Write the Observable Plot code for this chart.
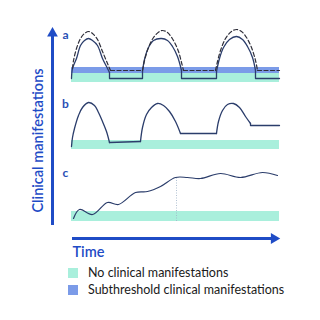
<!DOCTYPE html>
<html>
<head>
<meta charset="utf-8">
<script src="https://cdn.jsdelivr.net/npm/d3@7"></script>
<script src="https://cdn.jsdelivr.net/npm/@observablehq/plot@0.6"></script>
<style>
  html, body { margin: 0; padding: 0; background: #fff; }
  #wrap { position: relative; width: 320px; height: 320px; overflow: hidden; }
  #legend { position: absolute; left: 68px; top: 264px; font-family: Lato, "Open Sans", sans-serif; font-size: 12.5px; color: #1a1a1a; }
  .row { display: flex; align-items: center; height: 17px; }
  .sw { width: 10px; height: 10px; margin-right: 10px; }
</style>
</head>
<body>
<div id="wrap">
  <div id="chart"></div>
  <div id="legend"></div>
</div>
<script>
// ---- data (time units, severity above each panel's baseline) ----
const panels = ["a", "b", "c"];
const legendLabels = ["No clinical manifestations", "Subthreshold clinical manifestations"];
const bandColors = ["#a9efdc", "#7b9be8"];
const yAxisLabel = "Clinical manifestations";
const xAxisLabel = "Time";

// thresholds: no clinical manifestations below 9, subthreshold 9..15
const noClinicalTop = 9;
const subthresholdTop = 15;

// panel a — solid (actual) trajectory
const aSolidT = [0, 1, 5, 9, 13, 17, 21, 26, 31, 36, 38, 38, 71, 71, 73, 77, 82, 90, 96, 101, 106, 110, 110, 145, 145, 148, 152, 158, 165, 171, 176, 181, 184, 184, 208];
const aSolidV = [4, 14, 24, 37, 42, 44, 42, 37, 24, 14, 10, 4, 4, 11, 23, 35, 42, 44, 42, 36, 26, 12, 4, 4, 11, 24, 35, 43, 46, 43, 36, 25, 12, 4, 4];
// panel a — dashed trajectory
const aDashT = [1, 2, 5, 9, 13, 17, 21, 26, 31, 36, 39, 71, 73, 77, 82, 88, 91, 96, 102, 107, 110, 112, 144, 146, 149, 154, 160, 165, 170, 175, 180, 184, 186, 208];
const aDashV = [14, 22, 34, 44, 49, 51, 49, 43, 31, 19, 12, 12, 22, 35, 45, 51, 52, 50, 42, 31, 20, 12, 12, 21, 32, 44, 51, 53, 51, 45, 35, 22, 12, 12];
// panel b
const bT = [0, 1, 3, 7, 11, 17, 23, 27, 31, 35, 38, 69, 71, 75, 80, 86, 92, 98, 104, 109, 145, 147, 151, 156, 162, 168, 174, 179, 179, 208];
const bV = [3, 12, 21, 34, 42, 47, 44, 37, 28, 18, 7, 8, 22, 35, 42, 46, 44, 38, 28, 16, 16, 28, 39, 45, 46, 42, 33, 26, 24, 24];
// panel c
const cT = [2, 8, 21, 36, 47, 64, 76, 89, 104, 116, 129, 149, 169, 191, 206];
const cV = [3, 12, 7, 19, 17, 29, 30, 35, 44, 44, 43, 48, 44, 49, 46];
const cMarkT = 105; // dotted marker
const cMarkV = 44;
const cBandTop = 10;

// ---- layout (not data) ----
const W = 320, H = 262;
const base = {a: H - 82, b: H - 149, c: H - 221};
const tEnd = 208;

// split a trajectory into smooth (arc) runs and straight (flat / vertical) runs
function segments(T, V, p, name) {
  const out = [];
  let run = null, k = 0;
  for (let i = 0; i < T.length - 1; i++) {
    const dt = T[i + 1] - T[i], dv = V[i + 1] - V[i];
    const straight = dt === 0 || Math.abs(dv / dt) < 0.1;
    if (!run || run.straight !== straight) {
      run = {straight, id: `${name}-${k++}`};
      out.push({t: T[i], y: base[p] + V[i], id: run.id, straight});
    }
    out.push({t: T[i + 1], y: base[p] + V[i + 1], id: run.id, straight});
  }
  return out;
}
const smooth = (T, V, p, name) => T.map((t, i) => ({t, y: base[p] + V[i], id: name, straight: false}));

const navy = "#2b3d6b";
const trajectories = [
  {rows: segments(aSolidT, aSolidV, "a", "as"), dash: null, stroke: navy, w: 1.3},
  {rows: segments(aDashT, aDashV, "a", "ad"), dash: "4,2.5", stroke: "#2f2f3a", w: 1.2},
  {rows: segments(bT, bV, "b", "b"), dash: null, stroke: navy, w: 1.3},
  {rows: smooth(cT, cV, "c", "c"), dash: null, stroke: navy, w: 1.2}
];
const lineMarks = trajectories.flatMap(tr => [
  Plot.line(tr.rows.filter(d => !d.straight), {x: "t", y: "y", z: "id", stroke: tr.stroke, strokeWidth: tr.w, strokeDasharray: tr.dash, curve: "catmull-rom"}),
  Plot.line(tr.rows.filter(d => d.straight), {x: "t", y: "y", z: "id", stroke: tr.stroke, strokeWidth: tr.w, strokeDasharray: tr.dash})
]);

const bands = [
  {p: "a", y1: 0, y2: noClinicalTop, k: 0},
  {p: "a", y1: noClinicalTop, y2: subthresholdTop, k: 1},
  {p: "b", y1: 0, y2: noClinicalTop, k: 0},
  {p: "c", y1: 0, y2: cBandTop, k: 0}
].map(d => ({x1: 0, x2: tEnd, y1: base[d.p] + d.y1, y2: base[d.p] + d.y2, fill: bandColors[d.k]}));

const labelRows = panels.map(p => ({t: -6, y: base[p] + ({a: 47, b: 45, c: 48})[p], p}));

const axisBlue = "#1f4cc6";
const axisX = -19;

const chart = Plot.plot({
  width: W, height: H, margin: 0,
  x: {domain: [0, tEnd], range: [71, 279], axis: null},
  y: {domain: [0, H], range: [H, 0], axis: null},
  marks: [
    Plot.rectY(bands, {x1: "x1", x2: "x2", y1: "y1", y2: "y2", fill: "fill"}),
    Plot.ruleX([cMarkT], {y1: base.c, y2: base.c + cMarkV, stroke: "#9fb3c8", strokeWidth: 0.8, strokeDasharray: "1,1.5"}),
    ...lineMarks,
    Plot.text(labelRows, {x: "t", y: "y", text: "p", fill: "#2a4fb5", fontWeight: "bold", fontSize: 12, fontFamily: "Lato, sans-serif"}),
    // y arrow
    Plot.ruleX([axisX], {y1: base.c - 4, y2: H - 34, stroke: axisBlue, strokeWidth: 3}),
    Plot.dot([{x: axisX, y: H - 32.8}], {x: "x", y: "y", symbol: "triangle", r: 4, fill: axisBlue, stroke: null}),
    Plot.text([yAxisLabel], {x: axisX - 14, y: base.c + 81, text: d => d, rotate: -90, fill: axisBlue, fontWeight: 600, fontSize: 14.5, fontFamily: "Lato, sans-serif"}),
    // x arrow
    Plot.ruleY([base.c - 17], {x1: 1, x2: tEnd - 5, stroke: axisBlue, strokeWidth: 3}),
    Plot.dot([{x: tEnd - 5.5, y: base.c - 17}], {x: "x", y: "y", symbol: "triangle", r: 4, rotate: 90, fill: axisBlue, stroke: null}),
    Plot.text([xAxisLabel], {x: 1, y: base.c - 31, text: d => d, textAnchor: "start", fill: axisBlue, fontWeight: 600, fontSize: 14.5, fontFamily: "Lato, sans-serif"})
  ]
});
document.getElementById("chart").appendChild(chart);

const leg = document.getElementById("legend");
legendLabels.forEach((l, i) => {
  const row = document.createElement("div");
  row.className = "row";
  row.innerHTML = `<div class="sw" style="background:${bandColors[i]}"></div><span>${l}</span>`;
  leg.appendChild(row);
});
</script>
</body>
</html>
